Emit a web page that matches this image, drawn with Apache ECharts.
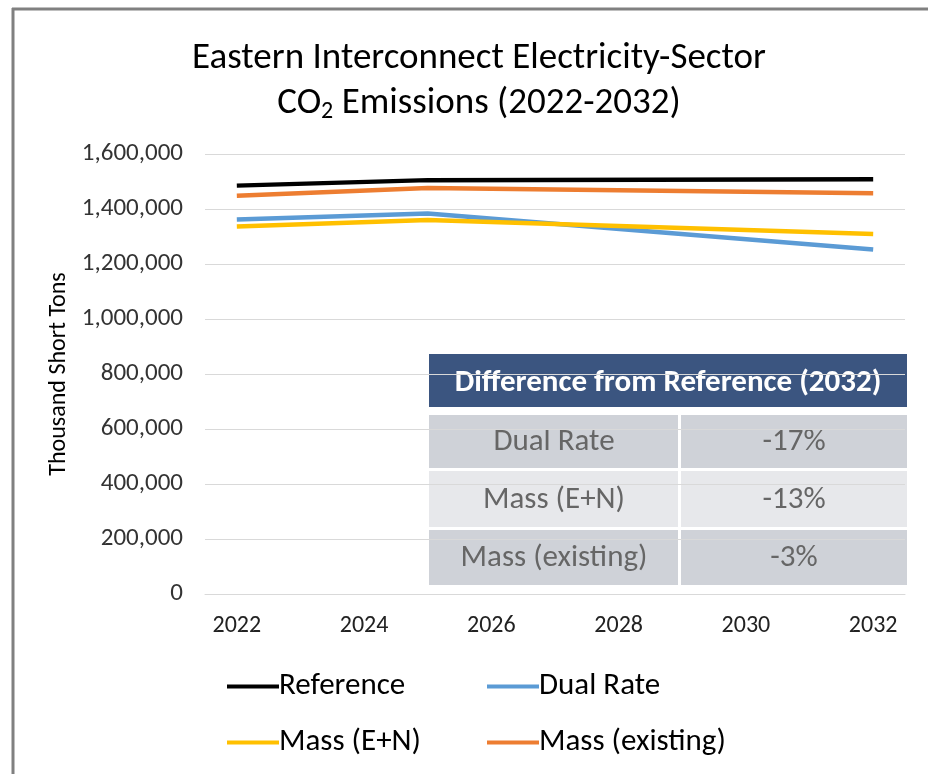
<!DOCTYPE html>
<html>
<head>
<meta charset="utf-8">
<script src="https://cdn.jsdelivr.net/npm/echarts@6/dist/echarts.min.js"></script>
<style>
html, body { margin: 0; padding: 0; background: #fff; }
#main { width: 928px; height: 774px; }
</style>
</head>
<body>
<div id="main"></div>
<script>
var years = ['2022','2023','2024','2025','2026','2027','2028','2029','2030','2031','2032'];
// values read at 2022, 2025 and 2032; lines are drawn straight between them
var reference = [1485000, null, null, 1505000, null, null, null, null, null, null, 1508000];
var dualRate = [1362000, null, null, 1384000, null, null, null, null, null, null, 1253000];
var massEN = [1336000, null, null, 1360000, null, null, null, null, null, null, 1309000];
var massExisting = [1448000, null, null, 1476000, null, null, null, null, null, null, 1457000];

var tableTitle = 'Difference from Reference (2032)';
var tableLabels = ['Dual Rate', 'Mass (E+N)', 'Mass (existing)'];
var tableValues = ['-17%', '-13%', '-3%'];

var font = 'Carlito, Calibri, "Liberation Sans Narrow", "Open Sans", sans-serif';

var dom = document.getElementById('main');
var myChart = echarts.init(dom);

function legendItem(name, left, top) {
    return {
        data: [name],
        left: left,
        top: top,
        icon: 'rect',
        itemWidth: 52,
        itemHeight: 4,
        itemGap: 0,
        selectedMode: false,
        textStyle: { fontFamily: font, fontSize: 31, color: '#000', padding: [0, 0, 0, -5] }
    };
}

// table built from the arrays above
var tableParts = [];
var rowTops = [415, 471, 530];
var rowH = [53, 56, 55];
var rowColors = ['#cfd2d8', '#e7e8eb', '#cfd2d8'];
tableParts.push({
    type: 'rect', shape: { x: 429, y: 354, width: 478, height: 53 },
    style: { fill: '#3b5580' }
});
tableParts.push({
    type: 'text', x: 668, y: 383,
    style: { text: tableTitle, fill: '#fff', font: 'bold 31px ' + font, align: 'center', verticalAlign: 'middle' }
});
for (var r = 0; r < tableLabels.length; r++) {
    tableParts.push({
        type: 'rect', shape: { x: 429, y: rowTops[r], width: 249, height: rowH[r] },
        style: { fill: rowColors[r] }
    });
    tableParts.push({
        type: 'rect', shape: { x: 681, y: rowTops[r], width: 226, height: rowH[r] },
        style: { fill: rowColors[r] }
    });
    tableParts.push({
        type: 'text', x: 554, y: rowTops[r] + rowH[r] / 2 + 1,
        style: { text: tableLabels[r], fill: '#666', font: '31px ' + font, align: 'center', verticalAlign: 'middle' }
    });
    tableParts.push({
        type: 'text', x: 794, y: rowTops[r] + rowH[r] / 2 + 1,
        style: { text: tableValues[r], fill: '#666', font: '31px ' + font, align: 'center', verticalAlign: 'middle' }
    });
}

var option = {
    backgroundColor: '#fff',
    animation: false,
    title: {
        text: 'Eastern Interconnect Electricity-Sector\n{n|CO}{s|2}{n| Emissions (2022-2032)}',
        left: 474,
        textAlign: 'center',
        top: 31,
        textStyle: {
            fontFamily: font, fontSize: 37, fontWeight: 'normal', color: '#000', lineHeight: 45,
            rich: {
                n: { fontFamily: font, fontSize: 37, color: '#000', lineHeight: 45 },
                s: { fontFamily: font, fontSize: 24, color: '#000', lineHeight: 45, padding: [16, 0, 0, 0] }
            }
        }
    },
    legend: [
        legendItem('Reference', 222, 666),
        legendItem('Dual Rate', 482, 666),
        legendItem('Mass (E+N)', 222, 722),
        legendItem('Mass (existing)', 482, 722)
    ],
    grid: { left: 205, right: 23, top: 154, bottom: 180, containLabel: false },
    xAxis: {
        type: 'category',
        data: years,
        boundaryGap: true,
        axisLine: { show: true, lineStyle: { color: '#d9d9d9', width: 1 } },
        axisTick: { show: false },
        axisLabel: { interval: 1, fontFamily: font, fontSize: 24, color: '#222', margin: 20 }
    },
    yAxis: {
        type: 'value',
        min: 0,
        max: 1600000,
        interval: 200000,
        name: 'Thousand Short Tons',
        nameLocation: 'middle',
        nameGap: 128,
        nameTextStyle: { fontFamily: font, fontSize: 24, color: '#000' },
        axisLine: { show: false },
        axisTick: { show: false },
        splitLine: { lineStyle: { color: '#d9d9d9', width: 1 } },
        axisLabel: {
            fontFamily: font, fontSize: 25, color: '#333', margin: 22,
            formatter: function (v) { return v.toLocaleString('en-US'); }
        }
    },
    series: [
        { name: 'Reference', type: 'line', data: reference, connectNulls: true, symbol: 'none',
          itemStyle: { color: '#000000' }, lineStyle: { color: '#000000', width: 4.5 }, z: 5 },
        { name: 'Dual Rate', type: 'line', data: dualRate, connectNulls: true, symbol: 'none',
          itemStyle: { color: '#5b9bd5' }, lineStyle: { color: '#5b9bd5', width: 4.5 }, z: 3 },
        { name: 'Mass (E+N)', type: 'line', data: massEN, connectNulls: true, symbol: 'none',
          itemStyle: { color: '#ffc000' }, lineStyle: { color: '#ffc000', width: 4.5 }, z: 4 },
        { name: 'Mass (existing)', type: 'line', data: massExisting, connectNulls: true, symbol: 'none',
          itemStyle: { color: '#ed7d31' }, lineStyle: { color: '#ed7d31', width: 4.5 }, z: 4 }
    ],
    graphic: [
        { type: 'group', z: 100, children: tableParts },
        { type: 'line', shape: { x1: 12, y1: 9, x2: 928, y2: 9 }, style: { stroke: '#808080', lineWidth: 3 } },
        { type: 'line', shape: { x1: 13, y1: 8, x2: 13, y2: 774 }, style: { stroke: '#808080', lineWidth: 3 } }
    ]
};

myChart.setOption(option);
</script>
</body>
</html>
